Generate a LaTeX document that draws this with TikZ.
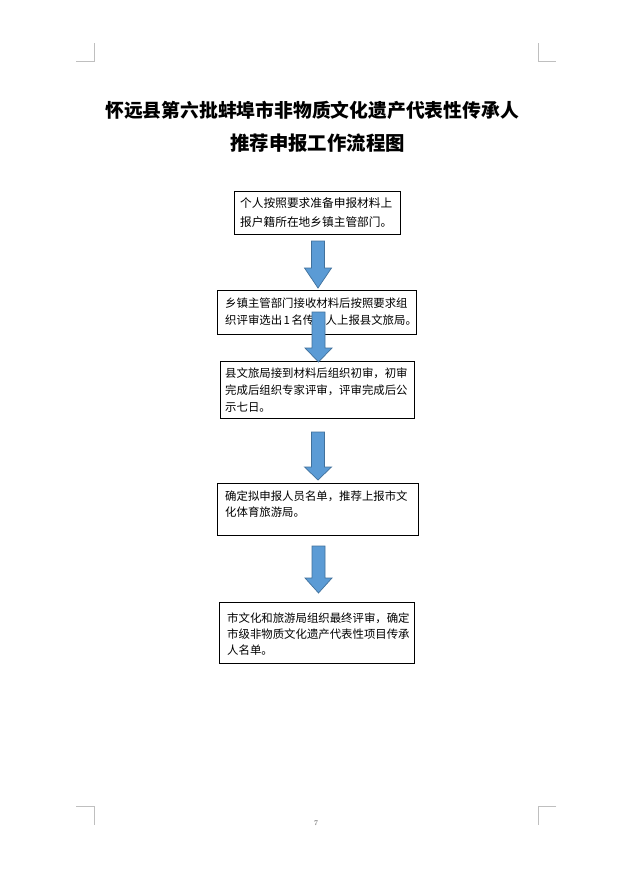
\documentclass[tikz,border=0pt]{standalone}
\usepackage{fontspec}
\newfontfamily\cjk{Noto Sans CJK SC}
\definecolor{arrowfill}{HTML}{5B9BD5}
\definecolor{arrowline}{HTML}{41719C}
\definecolor{markgray}{HTML}{BFBFBF}
\newcommand\blockarrow[4]{%
  \filldraw[arrowst] (#1-6.5,#2) -- (#1+6.5,#2) -- (#1+6.5,#3) -- (#1+13.5,#3)
    -- (#1,#4) -- (#1-13.5,#3) -- (#1-6.5,#3) -- cycle;}
\begin{document}
\begin{tikzpicture}[x=1pt,y=-1pt,
  box/.style={draw=black, line width=0.8pt, rectangle, inner sep=0pt},
  txt/.style={anchor=west, inner sep=0pt, align=left, font=\cjk\fontsize{11.4}{#1}\selectfont},
  txt/.default=17,
  title/.style={inner sep=0pt, font=\cjk\bfseries\fontsize{#1}{24}\selectfont},
  title/.default=19.4,
  cornerst/.style={draw=markgray, line width=0.8pt},
  arrowst/.style={fill=arrowfill, draw=arrowline, line width=0.7pt, line join=miter}]
\fill[white] (0,0) rectangle (634,870);
\useasboundingbox (0,0) rectangle (634,870);

% corner marks
\draw[cornerst] (76,61) -- (94,61) -- (94,43);
\draw[cornerst] (538,43) -- (538,61) -- (556,61);
\draw[cornerst] (76,806) -- (94,806) -- (94,825);
\draw[cornerst] (556,806) -- (538,806) -- (538,825);

% title
\node[title=18.8] (title1) at (312,110) {怀远县第六批蚌埠市非物质文化遗产代表性传承人};
\node[title=19.4] (title2) at (317.5,143) {推荐申报工作流程图};

% boxes
\node[box, minimum width=166, minimum height=43] (b1) at (317,212.5) {};
\node[box, minimum width=199, minimum height=44] (b2) at (316.5,312) {};
\node[box, minimum width=194, minimum height=57] (b3) at (317,389.5) {};
\node[box, minimum width=201, minimum height=52] (b4) at (317.5,509) {};
\node[box, minimum width=195, minimum height=61] (b5) at (316.5,632.5) {};

% texts
\node[txt=19, font=\cjk\fontsize{11.7}{19}\selectfont] (t1) at (240,212.5) {个人按照要求准备申报材料上\\报户籍所在地乡镇主管部门。};
\node[txt=17] (t2) at (225,311.5) {乡镇主管部门接收材料后按照要求组\\织评审选出\hspace{1.5pt}1\hspace{1.5pt}名传承人上报县文旅局。};
\node[txt=17] (t3) at (225,390) {县文旅局接到材料后组织初审，初审\\完成后组织专家评审，评审完成后公\\示七日。};
\node[txt=16] (t4) at (225,504) {确定拟申报人员名单，推荐上报市文\\化体育旅游局。};
\node[txt=16] (t5) at (227,634) {市文化和旅游局组织最终评审，确定\\市级非物质文化遗产代表性项目传承\\人名单。};

% block arrows
\blockarrow{318}{241}{268}{288}
\blockarrow{318.5}{312}{348}{362}
\blockarrow{318}{432}{467}{480}
\blockarrow{318.5}{546}{578}{593}

% page number
\node[inner sep=0pt, text=black!70, font=\fontsize{7}{8}\selectfont] (pnum) at (316,823) {7};
\end{tikzpicture}
\end{document}
